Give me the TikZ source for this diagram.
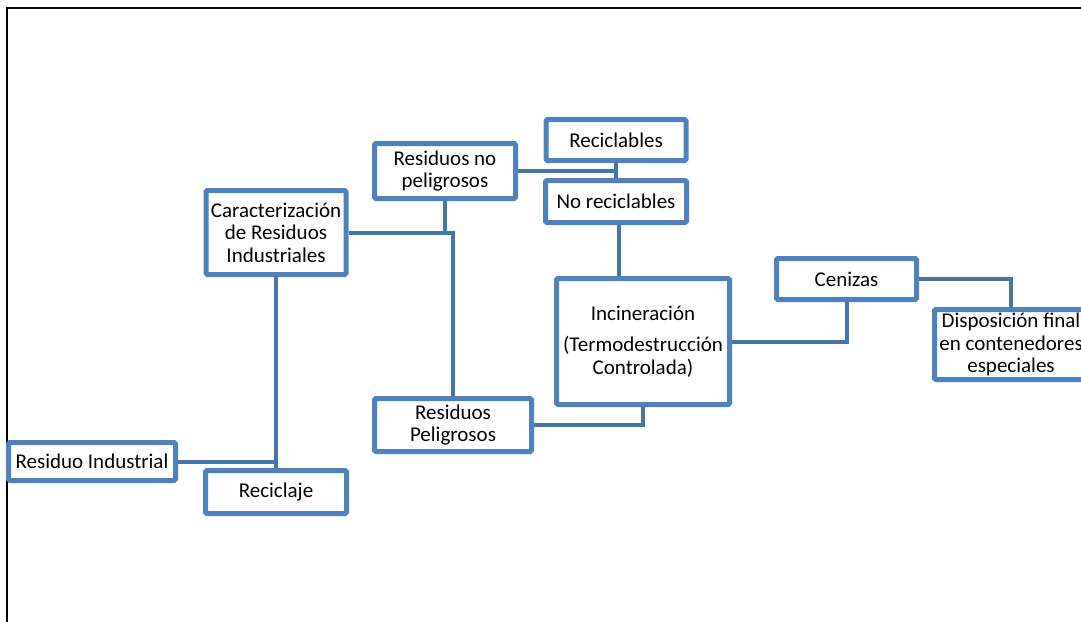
\documentclass[tikz,border=0pt]{standalone}
\usepackage{fontspec}
\setmainfont{Carlito}
\usetikzlibrary{positioning,calc}
\definecolor{boxblue}{HTML}{4F81BD}
\definecolor{linkblue}{HTML}{4675AC}

\begin{document}
\begin{tikzpicture}[x=1pt,y=-1pt,
    box/.style={draw=boxblue, line width=5pt, rounded corners=1.5pt, fill=white,
      align=center, inner sep=1pt, font=\fontsize{21}{22.5}\selectfont},
    link/.style={draw=linkblue, line width=4pt}]
  \useasboundingbox (0,0) rectangle (1081,621);
  % marco
  \draw[line width=2.5pt, line cap=rect] (7,630) -- (7,8) -- (1090,8);

  \node[box, minimum width=167pt, minimum height=38pt] (resind) at (92,461.5) {Residuo Industrial};
  \node[box, minimum width=141pt, minimum height=43pt] (recic) at (276,492) {Reciclaje};
  \node[box, minimum width=140pt, minimum height=84pt] (caract) at (276,232.5)
    {Caracterización\\de Residuos\\Industriales};
  \node[box, minimum width=141pt, minimum height=55pt] (nopelig) at (445,171) {Residuos no\\peligrosos};
  \node[box, minimum width=157pt, minimum height=53pt] (pelig) at (453,425) {Residuos\\Peligrosos};
  \node[box, minimum width=140pt, minimum height=41pt] (reciclab) at (616,140) {Reciclables};
  \node[box, minimum width=141pt, minimum height=42pt] (noreciclab) at (616,201.5) {No reciclables};
  \node[box, minimum width=173pt, minimum height=126pt] (incin) at (643,341.5)
    {Incineración\\[9pt](Termodestrucción\\Controlada)};
  \node[box, minimum width=140pt, minimum height=41pt] (ceniza) at (846.5,279) {Cenizas};
  \node[box, minimum width=153pt, minimum height=70pt] (dispos) at (1011,344.5)
    {Disposición final\\en contenedores\\especiales};

  % conectores
  \draw[link] (resind.east) -- (resind.east -| caract.south);
  \draw[link] (caract.south) -- (recic.north);
  \draw[link] (caract.east) -- (caract.east -| pelig.north) -- (pelig.north);
  \draw[link] (nopelig.south) -- (nopelig.south |- caract.east);
  \draw[link] (nopelig.east) -- (nopelig.east -| reciclab.south);
  \draw[link] (reciclab.south) -- (noreciclab.north);
  \draw[link] ([xshift=3pt]noreciclab.south) -- ([xshift=3pt]noreciclab.south |- incin.north);
  \draw[link] (pelig.east) -| (incin.south);
  \draw[link] (incin.east) -| (ceniza.south);
  \draw[link] (ceniza.east) -| (dispos.north);
\end{tikzpicture}
\end{document}
